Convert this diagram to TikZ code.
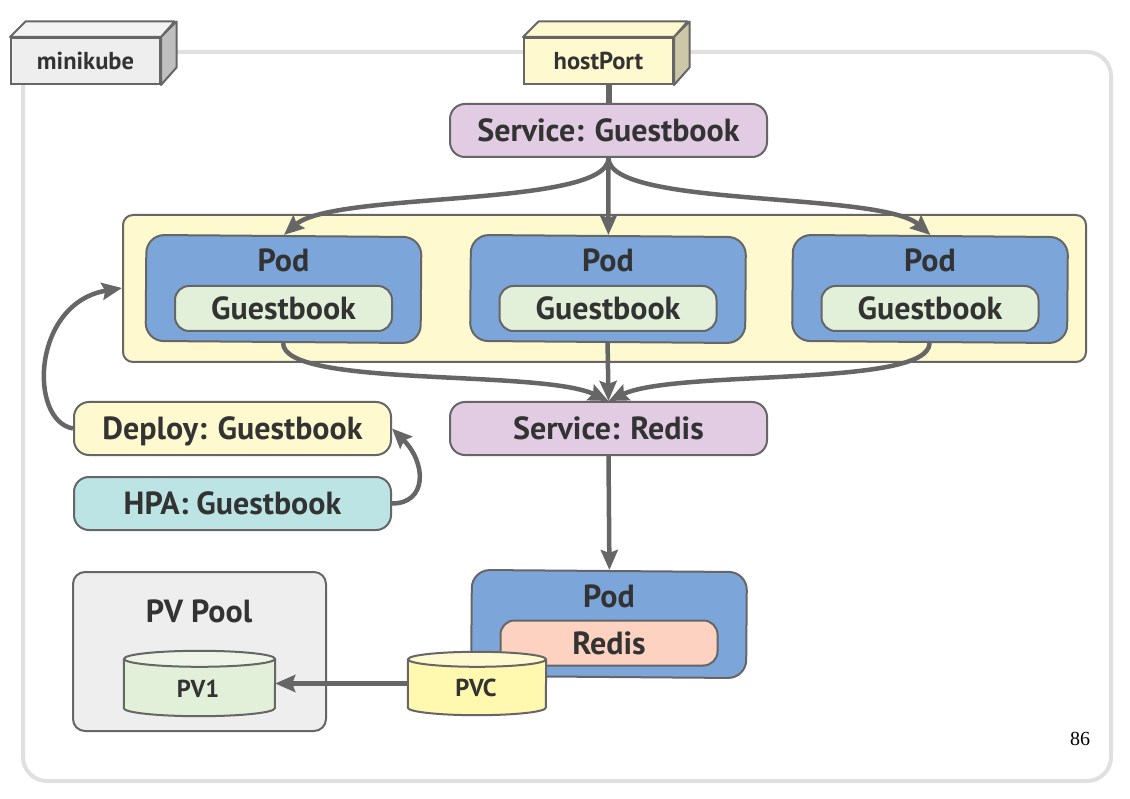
\documentclass[tikz,border=0pt]{standalone}
\usepackage{fontspec}
\setsansfont{PT Sans}
\setmainfont{Liberation Serif}
\usepackage{tikz}
\usetikzlibrary{shapes,arrows.meta,positioning,calc}
\definecolor{linegray}{HTML}{666666}
\definecolor{textgray}{HTML}{333333}
\definecolor{framegray}{HTML}{E0E0E0}
\definecolor{svcpurple}{HTML}{E1CCE3}
\definecolor{podblue}{HTML}{7CA5D9}
\definecolor{appgreen}{HTML}{E2EFD9}
\definecolor{paleyellow}{HTML}{FFF9CF}
\definecolor{redispeach}{HTML}{FDD2C1}
\definecolor{hpateal}{HTML}{BCE4E4}
\definecolor{poolgray}{HTML}{EEEEEE}
\definecolor{pvcyellow}{HTML}{FFF8AE}
\tikzstyle{arrow} = [line width=4.5pt, draw=linegray, -{Stealth[length=20pt,width=17pt,inset=3pt]}]
\tikzstyle{box} = [draw=linegray, line width=2pt, rounded corners=15pt, inner sep=0pt, text=textgray, text height=22pt, text depth=0pt, font=\sffamily\bfseries\fontsize{32}{32}\selectfont]
\tikzstyle{svcbox} = [box, fill=svcpurple, minimum width=317pt, minimum height=53pt]
\tikzstyle{podbox} = [box, fill=podblue, minimum width=275pt, minimum height=106pt, rotate=-0.45, rounded corners=18pt]
\tikzstyle{appbox} = [box, fill=appgreen, minimum width=217pt, minimum height=45pt, rounded corners=14pt]
\tikzstyle{podlabel} = [text=textgray, text height=22pt, text depth=0pt, font=\sffamily\bfseries\fontsize{32}{32}\selectfont]
\tikzstyle{cubefront} = [draw=linegray, line width=2pt, inner sep=0pt, minimum width=149pt, minimum height=46pt, text=textgray, text height=17pt, text depth=0pt, font=\sffamily\bfseries\fontsize{24.5}{24.5}\selectfont]
\tikzstyle{cubeface} = [draw=linegray, line width=2pt, line join=round]
\tikzstyle{drumlabel} = [text=textgray, text height=17pt, text depth=0pt, font=\sffamily\bfseries\fontsize{24.5}{24.5}\selectfont]
\begin{document}
\begin{tikzpicture}[x=1pt, y=-1pt, font=\sffamily]
    \useasboundingbox[fill=white] (0,0) rectangle (1130,799);
    % outer frame
    \node[draw=framegray, line width=4pt, rounded corners=24pt, minimum width=1088pt, minimum height=729pt, inner sep=0pt] (frame) at (567,416.5) {};
    % top boxes
    \node[cubefront, fill=poolgray] (minikube) at (85.5,61) {minikube};
    \draw[cubeface, fill=poolgray!70!white] (minikube.north west) -- ++(15.5,-15.5) -- ++(149,0) -- (minikube.north east) -- cycle;
    \draw[cubeface, fill=black!25] (minikube.north east) -- ++(15.5,-15.5) -- ++(0,46) -- (minikube.south east) -- cycle;
    \node[cubefront, fill=paleyellow] (hostport) at (598.5,61) {hostPort};
    \draw[cubeface, fill=paleyellow] (hostport.north west) -- ++(15.5,-15.5) -- ++(149,0) -- (hostport.north east) -- cycle;
    \draw[cubeface, fill=paleyellow!80!black] (hostport.north east) -- ++(15.5,-15.5) -- ++(0,46) -- (hostport.south east) -- cycle;
    \node[svcbox] (svcguest) at (608.5,130.5) {Service: Guestbook};
    \draw[line width=6pt, linegray] (svcguest.north |- hostport.south) -- (svcguest.north);
    % pod group
    \node[draw=linegray, line width=2pt, rounded corners=10pt, fill=paleyellow, minimum width=963pt, minimum height=147pt, inner sep=0pt] (podgroup) at (604.5,288.5) {};
    \node[podbox] (pod1) at (283.5,289) {};
    \node[podlabel] (podtext1) at (283.5,261) {Pod};
    \node[appbox] (guest1) at (283.5,308.5) {Guestbook};
    \node[podbox] (pod2) at (608,289) {};
    \node[podlabel] (podtext2) at (608,261) {Pod};
    \node[appbox] (guest2) at (608,308.5) {Guestbook};
    \node[podbox] (pod3) at (930,289) {};
    \node[podlabel] (podtext3) at (930,261) {Pod};
    \node[appbox] (guest3) at (930,308.5) {Guestbook};
    % middle boxes
    \node[svcbox] (svcredis) at (608.5,428.5) {Service: Redis};
    \node[svcbox, fill=paleyellow] (deploy) at (232.5,428.5) {Deploy: Guestbook};
    \node[svcbox, fill=hpateal] (hpa) at (232.5,503.5) {HPA: Guestbook};
    % redis pod
    \node[podbox] (pod4) at (609,624) {};
    \node[podlabel] (podtext4) at (609,596) {Pod};
    \node[appbox, fill=redispeach] (redis) at (609,643) {Redis};
    % volumes
    \node[box, fill=poolgray, minimum width=253pt, minimum height=159pt, rounded corners=12pt] (pool) at (199.5,651.5) {};
    \node[podlabel] (pooltext) at (199,611) {PV Pool};
    \node[minimum width=151pt, minimum height=65pt, inner sep=0pt] (pv1) at (199.5,683.5) {};
    \draw[cubeface, fill=appgreen] ($(pv1.north west)+(0,8)$) -- ($(pv1.south west)+(0,-8)$) arc[start angle=180, end angle=360, x radius=75.5pt, y radius=8pt] -- ($(pv1.north east)+(0,8)$) -- cycle;
    \draw[cubeface, fill=appgreen!60!white] ($(pv1.north)+(0,8)$) ellipse[x radius=75.5pt, y radius=8pt];
    \node[drumlabel] (pv1text) at (198,689) {PV1};
    \node[minimum width=138pt, minimum height=63pt, inner sep=0pt] (pvc) at (477,683.5) {};
    \draw[cubeface, fill=pvcyellow] ($(pvc.north west)+(0,7.5)$) -- ($(pvc.south west)+(0,-7.5)$) arc[start angle=180, end angle=360, x radius=69pt, y radius=7.5pt] -- ($(pvc.north east)+(0,7.5)$) -- cycle;
    \draw[cubeface, fill=paleyellow] ($(pvc.north)+(0,7.5)$) ellipse[x radius=69pt, y radius=7.5pt];
    \node[drumlabel] (pvctext) at (476,688) {PVC};
    % connectors
    \draw[arrow] (svcguest.south) .. controls +(0,50) and +(50,-44) .. (pod1.north);
    \draw[arrow] (svcguest.south) -- (pod2.north);
    \draw[arrow] (svcguest.south) .. controls +(0,50) and +(-50,-44) .. (pod3.north);
    \draw[arrow] (pod1.south) .. controls +(0,45) and +(-68,-32) .. (svcredis.north);
    \draw[arrow] (pod2.south) -- (svcredis.north);
    \draw[arrow] (pod3.south) .. controls +(0,45) and +(68,-32) .. (svcredis.north);
    \draw[arrow] (svcredis.south) -- (pod4.north);
    \draw[arrow] (deploy.west) .. controls +(-45,-8) and +(-90,15) .. (podgroup.west |- 0,288);
    \draw[arrow] (hpa.east) .. controls +(35,0) and +(35,35) .. (deploy.east);
    \draw[arrow] (pvc.west) -- (pv1.east);
    \node[font=\rmfamily\fontsize{20}{20}\selectfont] (pagenum) at (1080,739) {86};
\end{tikzpicture}
\end{document}
